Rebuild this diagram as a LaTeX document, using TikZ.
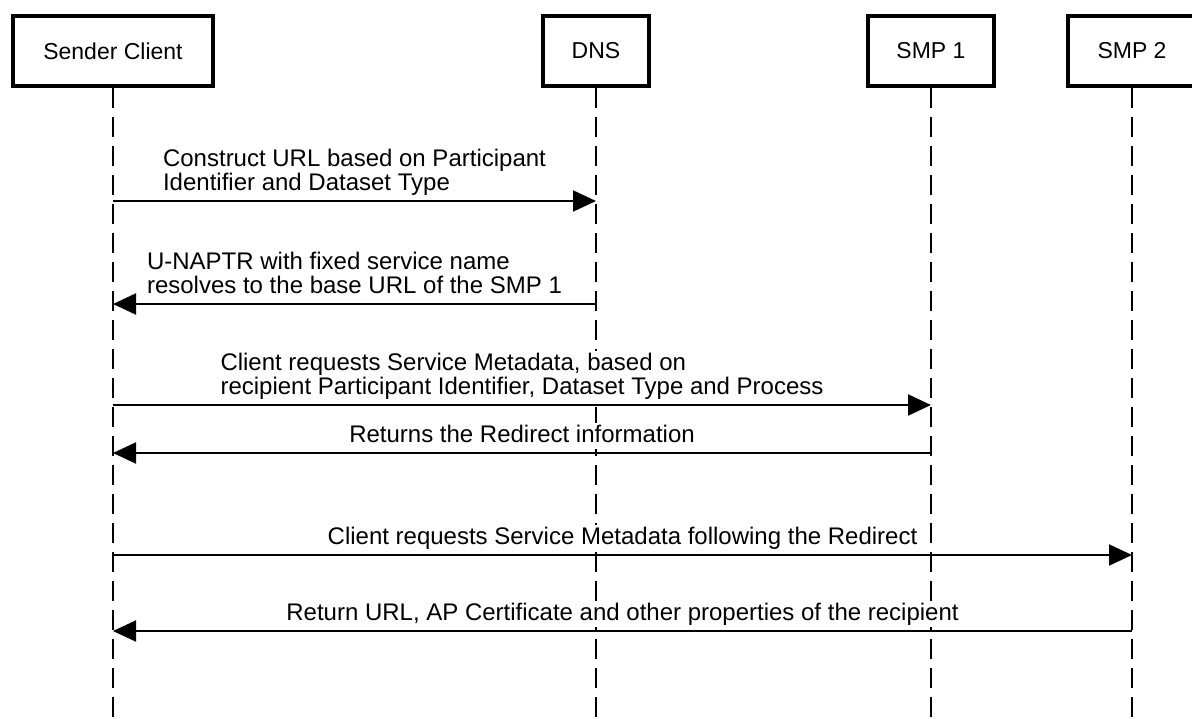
\documentclass[tikz,border=0pt]{standalone}
\usepackage{fontspec}
\setmainfont{Liberation Sans}
\usetikzlibrary{arrows.meta}

\tikzset{
  actor/.style={draw,line width=4pt,minimum height=70pt,inner sep=0pt,
    font=\fontsize{23}{24}\selectfont},
  lifeline/.style={line width=2pt,dash pattern=on 20pt off 9pt},
  msg/.style={line width=2pt,-{Triangle[length=23pt,width=21pt]}},
  msglabel/.style={font=\fontsize{24}{24}\selectfont,align=left,inner sep=2pt,
    fill=white,text depth=5pt,above=3pt}
}

\begin{document}
\begin{tikzpicture}[x=1pt,y=-1pt]
  \useasboundingbox (0,0) rectangle (1192,718);

  % participants
  \node[actor,minimum width=200pt] (sender) at (113,51) {Sender Client};
  \node[actor,minimum width=106pt] (dns) at (596,51) {DNS};
  \node[actor,minimum width=126pt] (smp1) at (931,51) {SMP 1};
  \node[actor,minimum width=128pt] (smp2) at (1132,51) {SMP 2};

  % lifelines
  \coordinate (senderend) at (113,718);
  \coordinate (dnsend) at (596,718);
  \coordinate (smp1end) at (931,718);
  \coordinate (smp2end) at (1132,718);
  \draw[lifeline] (sender.south) -- (senderend);
  \draw[lifeline] (dns.south) -- (dnsend);
  \draw[lifeline] (smp1.south) -- (smp1end);
  \draw[lifeline] (smp2.south) -- (smp2end);

  % message end points
  \coordinate (s1) at (113,201);
  \coordinate (d1) at (596,201);
  \coordinate (s2) at (113,304);
  \coordinate (d2) at (596,304);
  \coordinate (s3) at (113,405);
  \coordinate (m3) at (931,405);
  \coordinate (s4) at (113,453);
  \coordinate (m4) at (931,453);
  \coordinate (s5) at (113,555);
  \coordinate (n5) at (1132,555);
  \coordinate (s6) at (113,631);
  \coordinate (n6) at (1132,631);

  % messages
  \draw[msg] (s1) -- node[msglabel] {Construct URL based on Participant\\Identifier and Dataset Type} (d1);
  \draw[msg] (d2) -- node[msglabel] {U-NAPTR with fixed service name\\resolves to the base URL of the SMP 1} (s2);
  \draw[msg] (s3) -- node[msglabel] {Client requests Service Metadata, based on\\recipient Participant Identifier, Dataset Type and Process} (m3);
  \draw[msg] (m4) -- node[msglabel] {Returns the Redirect information} (s4);
  \draw[msg] (s5) -- node[msglabel] {Client requests Service Metadata following the Redirect} (n5);
  \draw[msg] (n6) -- node[msglabel] {Return URL, AP Certificate and other properties of the recipient} (s6);
\end{tikzpicture}
\end{document}
